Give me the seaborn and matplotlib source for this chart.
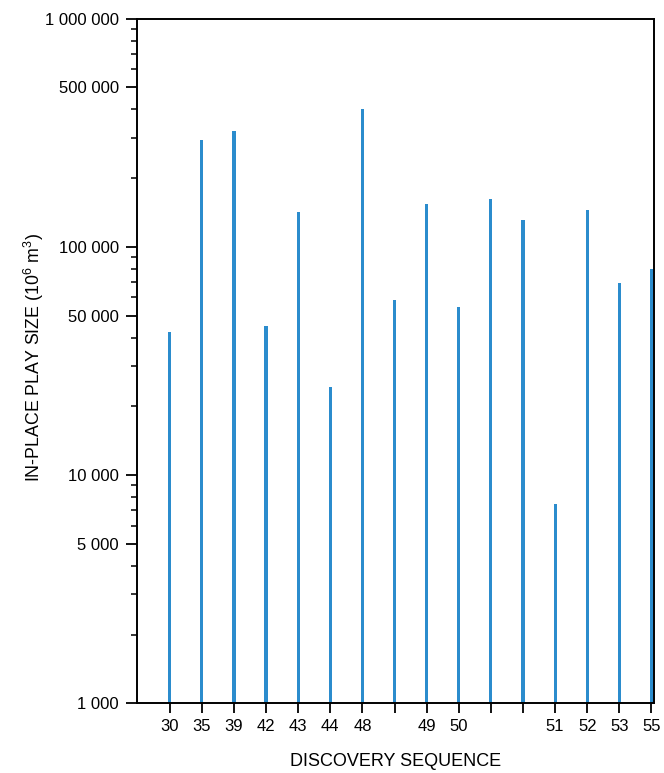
import numpy as np
import pandas as pd
import seaborn as sns
import matplotlib.pyplot as plt
from matplotlib.ticker import FixedLocator, NullFormatter

# discovery sequence labels (blank = unlabelled play)
seq_labels = ['30', '35', '39', '42', '43', '44', '48', '', '49', '50', '', '', '51', '52', '53', '55']
play_size = [42200, 295000, 321000, 45000, 142000, 24300, 402000, 58600,
             154000, 54600, 162000, 131000, 7460, 145000, 69100, 80100]

ytick_vals = [1000, 5000, 10000, 50000, 100000, 500000, 1000000]
ytick_labels = ['1 000', '5 000', '10 000', '50 000', '100 000', '500 000', '1 000 000']

sns.set_style('ticks')
plt.rcParams['font.family'] = ['Liberation Sans', 'DejaVu Sans']
plt.rcParams['mathtext.default'] = 'regular'
plt.rcParams['text.color'] = 'black'
plt.rcParams['axes.labelcolor'] = 'black'
plt.rcParams['xtick.color'] = 'black'
plt.rcParams['ytick.color'] = 'black'

df = pd.DataFrame({'idx': range(len(play_size)), 'size': play_size})

fig = plt.figure(figsize=(6.64, 7.73), dpi=100)
ax = fig.add_axes([0.2063, 0.0902, 0.7787, 0.8858])
ax.set_yscale('log')
sns.barplot(data=df, x='idx', y='size', color='#2b8ccd', saturation=1,
            width=0.1, ax=ax, linewidth=0)

ax.set_ylim(1000, 1000000)
ax.set_xlim(-1.02, 15.08)
ax.yaxis.set_major_locator(FixedLocator(ytick_vals))
ax.set_yticklabels(ytick_labels)
minor = [m * 10 ** e for e in range(3, 6) for m in range(2, 10) if m != 5]
ax.yaxis.set_minor_locator(FixedLocator(minor))
ax.yaxis.set_minor_formatter(NullFormatter())
ax.set_xticks(range(len(seq_labels)))
ax.set_xticklabels(seq_labels)

ax.tick_params(axis='y', which='major', length=8, width=1.3, pad=5, labelsize=12)
ax.tick_params(axis='y', which='minor', length=4.5, width=1.1)
ax.tick_params(axis='x', length=7, width=1.3, pad=4, labelsize=12)

for s in ax.spines.values():
    s.set_visible(True)
    s.set_linewidth(1.4)
    s.set_color('black')

ax.set_xlabel('DISCOVERY SEQUENCE', fontsize=13)
ax.set_ylabel('IN-PLACE PLAY SIZE (10$^{6}$ m$^{3}$)', fontsize=12.8)
ax.xaxis.set_label_coords(0.5, -0.0726)
ax.yaxis.set_label_coords(-0.176, 0.505)

fig.savefig('out.png', dpi=100)
